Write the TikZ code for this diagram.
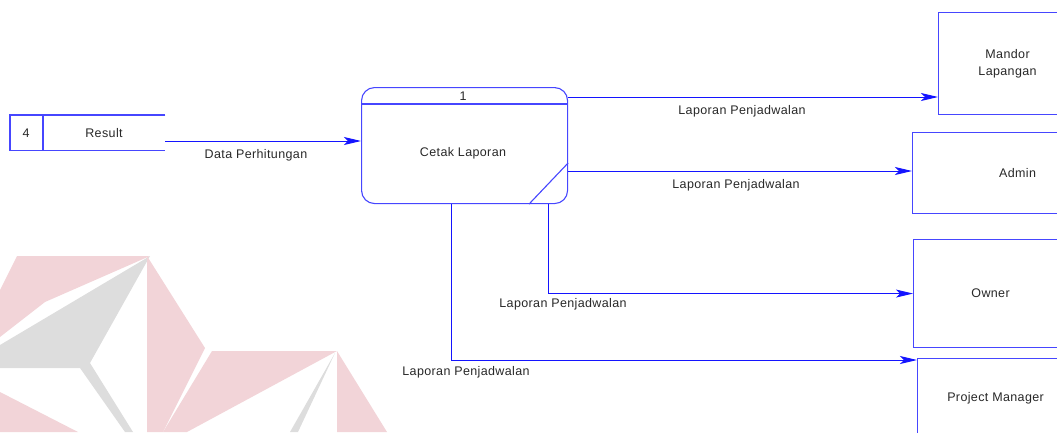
\documentclass[tikz,border=0pt]{standalone}
\usepackage{fontspec}
\setmainfont{Liberation Sans}[LetterSpace=3]
\usetikzlibrary{arrows.meta}
\definecolor{dfd}{RGB}{20,20,255}
\definecolor{boxc}{RGB}{70,70,255}
\definecolor{wmpink}{RGB}{242,212,216}
\definecolor{wmgray}{RGB}{221,221,221}
\definecolor{txt}{RGB}{40,40,40}
\tikzset{
  lbl/.style={font=\fontsize{12.5}{15}\selectfont, text=txt, inner sep=0pt},
  ent/.style={draw=boxc, line width=1.1pt, fill=white, anchor=north west, inner sep=0pt, align=center, font=\fontsize{12.5}{17}\selectfont, text=txt},
  arr/.style={draw=dfd, line width=0.9pt, -{Stealth[length=17pt,width=8pt,inset=4pt]}},
  wp/.style={fill=wmpink, draw=none},
  wg/.style={fill=wmgray, draw=none}
}
\begin{document}
\begin{tikzpicture}[x=1pt,y=-1pt]
\useasboundingbox (0,0) rectangle (1057,432);
\clip (0,0) rectangle (1057,432);
% watermark
\fill[wp] (17,256) -- (150,256) -- (45,302) -- (0,337) -- (0,290) -- cycle;
\fill[wg] (150,256) -- (0,345) -- (0,368) -- (80,368) -- (125,432) -- (133,432) -- (90,363) -- cycle;
\fill[wp] (147,256) -- (205,348) -- (163,432) -- (147,432) -- cycle;
\fill[wp] (0,392) -- (78,432) -- (0,432) -- cycle;
\fill[wp] (212,351) -- (337,351) -- (187,432) -- (163,432) -- cycle;
\fill[wg] (335,353) -- (290,432) -- (298,432) -- cycle;
\fill[wp] (337,351) -- (387,432) -- (337,432) -- cycle;
% data store
\node[minimum width=155pt, minimum height=35pt, anchor=north west, inner sep=0pt] (result) at (10,115) {};
\draw[boxc, line width=1.1pt] (result.north east) -- (result.north west) -- (result.south west) -- (result.south east);
\draw[boxc, line width=1.1pt] ([xshift=33pt]result.north west) -- ([xshift=33pt]result.south west);
\node[lbl] (rnum) at (26,133) {4};
\node[lbl] (rname) at (104,133) {Result};
% process
\node[draw=boxc, line width=1.1pt, rounded corners=13pt, minimum width=206pt, minimum height=116pt, anchor=north west, inner sep=0pt] (proc) at (361,87) {};
\draw[boxc, line width=1.1pt] (proc.west |- 0,104) -- (proc.east |- 0,104);
\draw[boxc, line width=1.1pt] (proc.east |- 0,163) -- (proc.south -| 529,0);
\node[lbl] (pnum) at (463,96) {1};
\node[lbl] (pname) at (463,153) {Cetak Laporan};
% entities
\node[ent, minimum width=138pt, minimum height=102pt] (mandor) at (938,12) {Mandor\\Lapangan};
\node[ent, minimum width=210pt, minimum height=81pt] (admin) at (912,132) {Admin};
\node[ent, minimum width=154pt, minimum height=108pt] (owner) at (913,239) {Owner};
\node[ent, minimum width=156pt, minimum height=80pt] (pm) at (917,358) {Project Manager};
% connectors
\draw[arr] (result.east |- 0,141) -- (proc.west |- 0,141);
\node[lbl] at (256,155) {Data Perhitungan};
\draw[arr] (proc.east |- 0,97) -- (mandor.west |- 0,97);
\node[lbl] at (742,111) {Laporan Penjadwalan};
\draw[arr] (proc.east |- 0,171) -- (admin.west |- 0,171);
\node[lbl] at (736,185) {Laporan Penjadwalan};
\draw[arr] (proc.south -| 548,0) |- (owner.west);
\node[lbl] at (563,304) {Laporan Penjadwalan};
\draw[arr] (proc.south -| 451,0) |- (pm.west |- 0,360);
\node[lbl] at (466,372) {Laporan Penjadwalan};
\end{tikzpicture}
\end{document}
